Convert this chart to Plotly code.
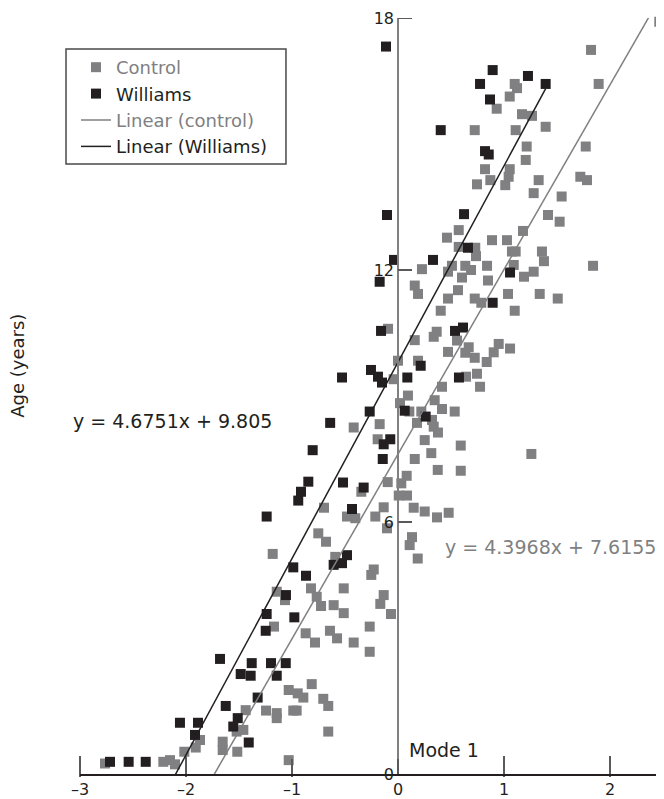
import plotly.graph_objects as go

# ---------------- data ----------------
control_x = [1.431, 2.465, 1.821, 1.893, 1.101, 1.123, 1.054, 0.931, 1.170, 1.264,
             0.724, 1.110, 1.393, 1.214, 1.771, 1.205, 0.821, 1.054, 0.871, 0.745,
             1.044, 1.012, 1.327, 1.720, 1.783, 1.280, 1.544, 1.415, 1.525, 0.573,
             0.462, 1.179, 0.887, 1.028, 0.573, 0.729, 0.736, 1.075, 1.110, 1.358,
             1.377, 0.509, 0.635, 0.689, 0.840, 1.092, 0.472, 0.226, 0.604, 0.849,
             1.189, 1.280, 1.840, 0.158, 0.189, 0.566, 0.472, 0.724, 0.786, 1.038,
             1.337, 1.507, 0.403, 1.101, -0.094, 0.365, 0.337, 0.158, 0.557, 0.667,
             0.950, 0.472, 0.635, 1.057, 0.903, 0.724, 0.837, 0.000, 0.189, -0.041,
             0.642, 0.745, 0.415, 0.774, 0.094, 0.346, 0.019, 0.107, 0.220, 0.415,
             0.535, 0.179, 0.321, 0.337, 0.377, -0.173, -0.418, -0.192, 0.252, 0.592,
             1.258, 0.314, 0.158, 0.375, 0.592, 0.082, -0.097, 0.031, -0.346, 0.007,
             0.085, -0.135, 0.148, 0.252, 0.368, 0.478, -0.481, -0.403, -0.214, -0.104,
             0.132, 0.110, 0.186, -0.229, -0.252, -0.512, -0.135, -0.592, -0.698, -0.752,
             -0.679, -1.182, -0.821, -1.144, -0.767, -1.066, -0.726, -1.170, -0.871, -0.783,
             -0.642, -0.814, -1.031, -0.946, -0.893, -0.705, -0.658, -1.437, -1.245, -1.144,
             -1.144, -0.988, -0.956, -0.658, -1.459, -1.522, -1.868, -1.908, -2.016, -1.654,
             -1.654, -1.516, -1.031, -2.764, -2.214, -2.151, -2.104, -0.607, -0.512, -0.167,
             -0.066, -0.267, -0.575, -0.418, -0.267]
control_y = [18.05, 17.91, 17.24, 16.43, 16.43, 16.33, 16.13, 15.84, 15.71, 15.67,
             15.33, 15.33, 15.41, 14.94, 14.94, 14.62, 14.40, 14.40, 14.14, 14.04,
             14.22, 14.02, 14.14, 14.22, 14.14, 13.83, 13.75, 13.31, 13.15, 12.95,
             12.77, 12.93, 12.71, 12.71, 12.55, 12.53, 12.33, 12.44, 12.44, 12.44,
             12.21, 12.10, 12.10, 12.00, 12.10, 12.12, 11.96, 12.02, 11.82, 11.75,
             11.84, 11.96, 12.10, 11.63, 11.43, 11.52, 11.32, 11.32, 11.22, 11.43,
             11.43, 11.32, 11.03, 11.03, 10.60, 10.53, 10.41, 10.33, 10.32, 10.16,
             10.24, 10.05, 10.03, 10.13, 10.04, 9.91, 9.81, 9.84, 9.84, 9.40,
             9.46, 9.53, 9.22, 9.22, 9.01, 8.90, 8.83, 8.63, 8.63, 8.69,
             8.63, 8.36, 8.43, 8.27, 8.13, 8.33, 8.25, 7.97, 7.95, 7.82,
             7.62, 7.64, 7.50, 7.24, 7.22, 7.10, 6.95, 6.92, 6.72, 6.63,
             6.63, 6.35, 6.34, 6.25, 6.11, 6.22, 6.13, 6.09, 6.13, 5.85,
             5.64, 5.45, 5.13, 4.87, 4.74, 4.42, 4.26, 5.17, 6.34, 5.73,
             5.53, 5.24, 4.42, 4.34, 4.22, 4.14, 4.00, 3.51, 3.35, 3.13,
             3.41, 2.14, 2.00, 1.92, 1.82, 1.79, 1.62, 1.52, 1.51, 1.45,
             1.33, 1.51, 1.51, 1.01, 1.05, 1.01, 0.81, 0.63, 0.53, 0.77,
             0.57, 0.53, 0.33, 0.25, 0.29, 0.33, 0.23, 4.02, 3.83, 4.05,
             3.81, 3.51, 3.23, 3.13, 2.91]

williams_x = [-0.113, 0.893, 0.774, 1.226, 1.393, 0.868, 0.403, 0.821, 0.856, -0.104,
              0.623, 0.660, -0.038, 0.330, -0.173, 1.057, 0.893, -0.160, 0.538, 0.613,
              0.214, -0.255, -0.189, -0.151, 0.088, -0.528, 0.575, -0.267, 0.063, 0.261,
              -0.640, -0.073, -0.135, -0.144, -0.519, -0.324, -0.434, -0.481, -0.528, -0.607,
              -0.805, -0.846, -0.915, -0.941, -1.239, -0.988, -0.868, -1.057, -1.239, -0.978,
              -1.248, -1.679, -1.380, -1.198, -1.059, -1.484, -1.390, -1.144, -1.324, -1.625,
              -1.512, -1.554, -2.057, -1.887, -1.915, -1.408, -2.717, -2.541, -2.380]
williams_y = [17.32, 16.76, 16.43, 16.62, 16.43, 16.06, 15.33, 14.83, 14.75, 13.31,
              13.33, 12.53, 12.24, 12.24, 11.72, 11.94, 11.22, 10.55, 10.55, 10.63,
              9.72, 9.62, 9.46, 9.32, 9.44, 9.44, 9.44, 8.63, 8.65, 8.51,
              8.36, 7.97, 7.85, 7.50, 6.94, 6.82, 6.31, 5.21, 5.02, 4.98,
              7.71, 6.96, 6.72, 6.51, 6.13, 4.92, 4.72, 4.26, 3.81, 3.73,
              3.41, 2.74, 2.64, 2.64, 2.64, 2.38, 2.34, 2.34, 1.82, 1.62,
              1.33, 1.13, 1.22, 1.22, 0.93, 0.75, 0.29, 0.29, 0.29]

# trendline equations as printed on the chart
control_slope, control_intercept = 4.3968, 7.6155
williams_slope, williams_intercept = 4.6751, 9.805

x_tickvals = [-3, -2, -1, 0, 1, 2]
x_ticktext = ["\u20133", "\u20132", "\u20131", "0", "1", "2"]
y_tickvals = [0, 6, 12, 18]

# ---------------- styling ----------------
GRAY = "#808082"
TICK = "#5a5a5c"
BLACK = "#231f20"
FONT = "DejaVu Sans"
X_PX = 583 / 5.5   # pixels per x unit
Y_PX = 756 / 18    # pixels per y unit

ctrl_lx = [min(control_x), max(control_x)]
ctrl_ly = [control_slope * v + control_intercept for v in ctrl_lx]
will_lx = [min(williams_x), max(williams_x)]
will_ly = [williams_slope * v + williams_intercept for v in will_lx]

# x tick marks drawn as vertical-line markers centred 7.5px above the axis
xt_vals = [v for v in x_tickvals if v != 0]

fig = go.Figure()
fig.add_trace(go.Scatter(
    x=xt_vals, y=[7.5 / Y_PX] * len(xt_vals), mode="markers",
    showlegend=False, hoverinfo="skip", cliponaxis=False,
    marker=dict(symbol="line-ns", size=15, color=TICK,
                line=dict(color=TICK, width=2))))
fig.add_trace(go.Scatter(
    x=control_x, y=control_y, mode="markers",
    name=f"<span style='color:{GRAY}'>Control</span>",
    marker=dict(symbol="square", size=10, color=GRAY, line=dict(width=0)),
    cliponaxis=False))
fig.add_trace(go.Scatter(
    x=williams_x, y=williams_y, mode="markers",
    name=f"<span style='color:{BLACK}'>Williams</span>",
    marker=dict(symbol="square", size=10, color=BLACK, line=dict(width=0)),
    cliponaxis=False))
fig.add_trace(go.Scatter(
    x=ctrl_lx, y=ctrl_ly, mode="lines",
    name=f"<span style='color:{GRAY}'>Linear (control)</span>",
    line=dict(color=GRAY, width=1.5)))
fig.add_trace(go.Scatter(
    x=will_lx, y=will_ly, mode="lines",
    name=f"<span style='color:{BLACK}'>Linear (Williams)</span>",
    line=dict(color=BLACK, width=1.5)))

# page body has an 8px margin: figure is 656x791 placed at (8,8)
fig.update_layout(
    width=656, height=791,
    margin=dict(l=72, r=1, t=10, b=25, autoexpand=False),
    paper_bgcolor="white", plot_bgcolor="white",
    font=dict(family=FONT, size=16, color=BLACK),
    showlegend=True,
    legend=dict(x=-0.0069, y=0.959, xanchor="left", yanchor="top",
                borderwidth=0, bgcolor="rgba(0,0,0,0)",
                font=dict(family=FONT, size=18), tracegroupgap=0),
    xaxis=dict(range=[-3, 2.5], tickvals=x_tickvals, ticktext=x_ticktext,
               showgrid=False, zeroline=False, showline=True,
               linecolor=BLACK, linewidth=1.5,
               ticks="inside", ticklen=15, tickwidth=2, tickcolor=TICK,
               automargin=False,
               tickfont=dict(family=FONT, size=16, color=BLACK)),
    yaxis=dict(range=[0, 18], tickvals=y_tickvals,
               anchor="free", position=3 / 5.5,
               showgrid=False, zeroline=False, showline=True,
               linecolor=GRAY, linewidth=1.5, ticks="",
               tickfont=dict(family=FONT, size=16, color=BLACK),
               automargin=False),
)

# y tick marks pointing right from the axis
for v in y_tickvals[1:]:
    fig.add_shape(type="line", xref="x", yref="y", x0=0, x1=14 / X_PX,
                  y0=v, y1=v, line=dict(color=TICK, width=2), layer="above")

# legend frame
fig.add_shape(type="rect", xref="paper", yref="paper",
              x0=-0.024, x1=0.3533, y0=0.8069, y1=0.959,
              line=dict(color="#4a4a4a", width=1.5), fillcolor="rgba(0,0,0,0)")

fig.add_annotation(text="Age (years)", xref="paper", yref="paper",
                   x=-0.1063, y=0.540, textangle=-90, showarrow=False,
                   xanchor="center", yanchor="middle",
                   font=dict(family=FONT, size=18, color=BLACK))
fig.add_annotation(text="y = 4.6751x + 9.805", xref="paper", yref="paper",
                   x=-0.0155, y=0.4669, xanchor="left", yanchor="middle",
                   showarrow=False, font=dict(family=FONT, size=19, color=BLACK))
fig.add_annotation(text="y = 4.3968x + 7.6155", xref="x", yref="y",
                   x=0.4245, y=5.405, xanchor="left", yanchor="middle",
                   showarrow=False, font=dict(family=FONT, size=19, color=GRAY))
fig.add_annotation(text="Mode 1", xref="x", yref="y",
                   x=0.085, y=0.57, xanchor="left", yanchor="middle",
                   showarrow=False, font=dict(family=FONT, size=19, color=BLACK))

fig.write_html("out.html")
